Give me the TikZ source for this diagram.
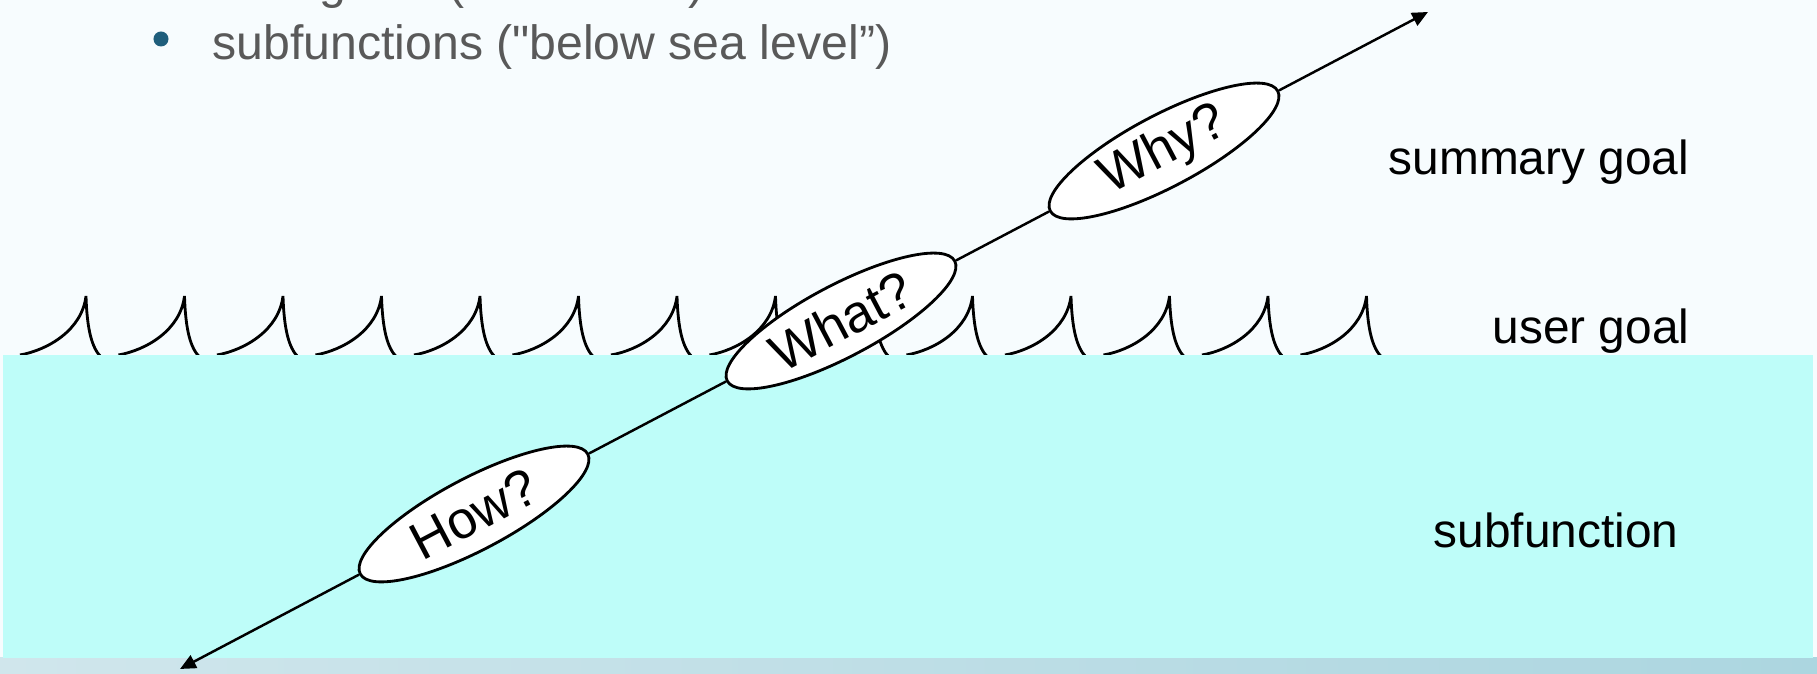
\documentclass[tikz,border=0pt]{standalone}
\usepackage{fontspec}
\setmainfont{Liberation Sans}
\newfontfamily\plainquote{Liberation Sans}
\usetikzlibrary{shapes.geometric,arrows.meta}
\definecolor{slide}{RGB}{247,252,254}
\definecolor{sea}{RGB}{190,253,249}
\definecolor{bulletgray}{RGB}{89,89,89}
\definecolor{bulletblue}{RGB}{31,94,124}
\begin{document}
\begin{tikzpicture}[x=0.01cm,y=-0.01cm,
  ask/.style={ellipse,draw,fill=white,line width=0.8pt,minimum width=2.57cm,
    minimum height=0.72cm,inner sep=0pt,rotate=27.8,font=\fontsize{15}{17}\selectfont},
  level/.style={anchor=base west,inner sep=0pt,font=\fontsize{13.6}{16}\selectfont},
  bullettext/.style={anchor=base west,inner sep=0pt,text=bulletgray,
    font=\fontsize{13.7}{16}\selectfont},
  wave/.style={line width=0.8pt},
  link/.style={line width=0.7pt}]
\useasboundingbox (0,0) rectangle (1817,674);
\clip (0,0) rectangle (1817,674);
\fill[slide] (0,0) rectangle (1817,674);
\shade[left color={rgb,255:red,208;green,230;blue,236},
  right color={rgb,255:red,172;green,214;blue,224}] (0,658) rectangle (1817,674);

% bullet list (top cut off)
\node[bullettext] (userline) at (212,-1) {user goals ({\plainquote"}sea level{\plainquote"})};
\node[circle,fill=bulletblue,inner sep=0pt,minimum size=0.15cm] (dot) at (161,39) {};
\node[bullettext] (subline) at (212,60) {subfunctions ({\plainquote"}below sea level”)};

% waves
\foreach \i in {0,...,13}{
  \pgfmathsetmacro{\px}{86+98.5*\i}
  \draw[wave] (\px-66,355) .. controls (\px-38,350) and (\px-4,330) .. (\px,296)
    .. controls (\px+1,330) and (\px+6,348) .. (\px+15,357);
}

% sea
\fill[sea] (3,355) rectangle (1813,658);

\node[level] (summary) at (1388,175) {summary goal};
\node[level] (user) at (1492,344) {user goal};
\node[level] (sub) at (1433,548) {subfunction};

\coordinate (down) at (180,669);
\coordinate (up) at (1428,12);
\node[ask] (how) at (474,514) {How?};
\node[ask] (what) at (841,321) {What?};
\node[ask] (why) at (1164,151) {Why?};

\draw[link,-{Triangle[length=4.5pt,width=4pt]}] (how) -- (down);
\draw[link] (how) -- (what);
\draw[link] (what) -- (why);
\draw[link,-{Triangle[length=4.5pt,width=4pt]}] (why) -- (up);
\end{tikzpicture}
\end{document}
